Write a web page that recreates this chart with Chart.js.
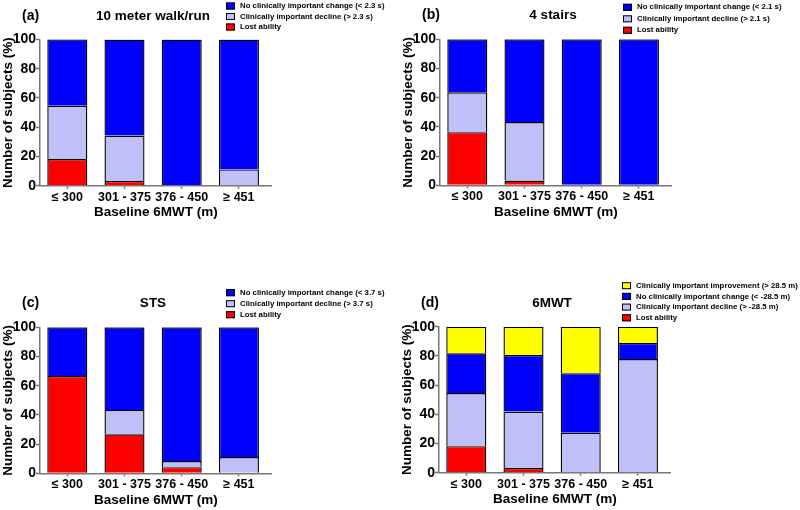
<!DOCTYPE html>
<html>
<head>
<meta charset="utf-8">
<script src="https://cdn.jsdelivr.net/npm/chart.js@4.4.1/dist/chart.umd.min.js"></script>
<style>
  html, body { margin: 0; padding: 0; background: #fff; }
  #wrap { position: relative; width: 800px; height: 510px; }
  canvas { position: absolute; }
</style>
</head>
<body>
<div id="wrap">
  <canvas id="chartA" width="400" height="255" style="left:0;top:0"></canvas>
  <canvas id="chartB" width="400" height="255" style="left:400px;top:0"></canvas>
  <canvas id="chartC" width="400" height="255" style="left:0;top:255px"></canvas>
  <canvas id="chartD" width="401" height="255" style="left:399px;top:255px"></canvas>
</div>
<script>
'use strict'

// baseline 6MWT groups
const categories = ['≤ 300', '301 - 375', '376 - 450', '≥ 451'];
const yTicks = [0, 20, 40, 60, 80, 100];

// (a) 10 meter walk/run, % of subjects
const walkLost = [18.2, 3.3, 0, 0];
const walkDecline = [36.4, 31.0, 0, 11.1];
const walkNoChange = [45.5, 65.7, 100, 88.9];

// (b) 4 stairs
const stairsLost = [36.4, 3.3, 0, 0];
const stairsDecline = [27.3, 40.0, 0, 0];
const stairsNoChange = [36.3, 56.7, 100, 100];

// (c) STS
const stsLost = [66.7, 26.7, 4.2, 0];
const stsDecline = [0, 16.7, 4.2, 11.1];
const stsNoChange = [33.3, 56.6, 91.6, 88.9];

// (d) 6MWT
const sixLost = [18.2, 3.2, 0, 0];
const sixDecline = [36.4, 38.7, 27.3, 77.8];
const sixNoChange = [27.2, 38.7, 40.9, 11.1];
const sixImproved = [18.2, 19.4, 31.8, 11.1];

const BLUE = '#0000FF';
const LAVENDER = '#C0C0F8';
const RED = '#FF0000';
const YELLOW = '#FFFF00';
const AXIS = '#777777';

Chart.defaults.font.family = 'Arial, "Liberation Sans", sans-serif';
Chart.defaults.color = '#000';

// panel letter, title and legend (top series first)
const panelText = {
  id: 'panelText',
  afterDraw(chart, args, opts) {
    const ctx = chart.ctx;
    ctx.save();
    ctx.fillStyle = '#000';
    ctx.textBaseline = 'middle';
    ctx.textAlign = 'left';
    ctx.font = 'bold 14px Arial, "Liberation Sans", sans-serif';
    ctx.fillText(opts.letter, 22, opts.titleY);
    ctx.textAlign = 'center';
    ctx.font = 'bold 13.5px Arial, "Liberation Sans", sans-serif';
    ctx.fillText(opts.title, 153, opts.titleY);

    ctx.textAlign = 'left';
    ctx.font = 'bold 7.8px Arial, "Liberation Sans", sans-serif';
    const lx = opts.legendX;
    const sets = chart.data.datasets.slice().reverse();
    sets.forEach(function(ds, i) {
      const y = opts.legendY + i * opts.legendGap;
      ctx.fillStyle = ds.backgroundColor;
      ctx.fillRect(lx, y - 3.5, 9, 7);
      ctx.strokeStyle = '#000';
      ctx.lineWidth = 1;
      ctx.strokeRect(lx + 0.5, y - 3, 8, 6);
      ctx.fillStyle = '#000';
      ctx.fillText(ds.label, lx + 14, y);
    });
    ctx.restore();
  }
};

function makeChart(id, panel) {
  const top = panel.top;
  const bottom = panel.bottom;
  const xAxisHeight = 35;
  const width = document.getElementById(id).width;

  const datasets = panel.series.map(function(s) {
    return {
      label: s.label,
      data: s.values.map(function(v, i) { return { x: i, y: v }; }),
      backgroundColor: s.color,
      borderColor: '#000',
      borderWidth: 1.4,
      barPercentage: 0.70,
      categoryPercentage: 1
    };
  });

  return new Chart(document.getElementById(id), {
    type: 'bar',
    data: { datasets: datasets },
    plugins: [panelText],
    options: {
      responsive: false,
      animation: false,
      devicePixelRatio: 1,
      layout: {
        padding: { left: 0, top: top, right: width - 271.7, bottom: 255 - bottom - xAxisHeight }
      },
      plugins: {
        legend: { display: false },
        tooltip: { enabled: false },
        panelText: panel.text
      },
      scales: {
        x: {
          type: 'linear',
          stacked: true,
          offset: false,
          min: -0.477,
          max: 3.573,
          afterBuildTicks: function(scale) {
            scale.ticks = categories.map(function(c, i) { return { value: i }; });
          },
          afterFit: function(scale) { scale.height = xAxisHeight; },
          ticks: {
            autoSkip: false,
            maxRotation: 0,
            padding: 1,
            font: { size: 12.5, weight: 'bold' },
            callback: function(v) { return categories[v]; }
          },
          grid: {
            offset: false,
            drawOnChartArea: false,
            drawTicks: true,
            tickLength: 3,
            tickColor: AXIS,
            tickWidth: 1.5
          },
          border: { display: true, color: AXIS, width: 1.5 },
          title: {
            display: true,
            text: 'Baseline 6MWT (m)',
            font: { size: 13.5, weight: 'bold' },
            padding: { top: 0, bottom: 0 }
          }
        },
        y: {
          stacked: true,
          min: 0,
          max: 100,
          afterBuildTicks: function(scale) {
            scale.ticks = yTicks.map(function(v) { return { value: v }; });
          },
          afterFit: function(scale) { scale.width = 40; },
          ticks: {
            padding: 0,
            font: { size: 14, weight: 'bold' }
          },
          grid: {
            drawOnChartArea: false,
            drawTicks: true,
            tickLength: 4,
            tickColor: AXIS,
            tickWidth: 1.5
          },
          border: { display: true, color: AXIS, width: 1.5 },
          title: {
            display: true,
            text: 'Number of subjects (%)',
            font: { size: 13.5, weight: 'bold' },
            padding: { top: 0, bottom: 0 }
          }
        }
      }
    }
  });
}

makeChart('chartA', {
  top: 39.5, bottom: 185.7,
  text: { letter: '(a)', title: '10 meter walk/run', titleY: 16, legendX: 226, legendY: 6, legendGap: 10.5 },
  series: [
    { label: 'Lost ability', values: walkLost, color: RED },
    { label: 'Clinically important decline (> 2.3 s)', values: walkDecline, color: LAVENDER },
    { label: 'No clinically important change (< 2.3 s)', values: walkNoChange, color: BLUE }
  ]
});

makeChart('chartB', {
  top: 39.3, bottom: 185.3,
  text: { letter: '(b)', title: '4 stairs', titleY: 15, legendX: 223, legendY: 7.3, legendGap: 11.5 },
  series: [
    { label: 'Lost ability', values: stairsLost, color: RED },
    { label: 'Clinically important decline (> 2.1 s)', values: stairsDecline, color: LAVENDER },
    { label: 'No clinically important change (< 2.1 s)', values: stairsNoChange, color: BLUE }
  ]
});

makeChart('chartC', {
  top: 72.3, bottom: 218.3,
  text: { letter: '(c)', title: 'STS', titleY: 48.3, legendX: 226, legendY: 37.7, legendGap: 11 },
  series: [
    { label: 'Lost ability', values: stsLost, color: RED },
    { label: 'Clinically important decline (> 3.7 s)', values: stsDecline, color: LAVENDER },
    { label: 'No clinically important change (< 3.7 s)', values: stsNoChange, color: BLUE }
  ]
});

makeChart('chartD', {
  top: 71.7, bottom: 217.7,
  text: { letter: '(d)', title: '6MWT', titleY: 48.3, legendX: 223, legendY: 30.7, legendGap: 10.7 },
  series: [
    { label: 'Lost ability', values: sixLost, color: RED },
    { label: 'Clinically important decline (> -28.5 m)', values: sixDecline, color: LAVENDER },
    { label: 'No clinically important change (< -28.5 m)', values: sixNoChange, color: BLUE },
    { label: 'Clinically important improvement (> 28.5 m)', values: sixImproved, color: YELLOW }
  ]
});
</script>
</body>
</html>
